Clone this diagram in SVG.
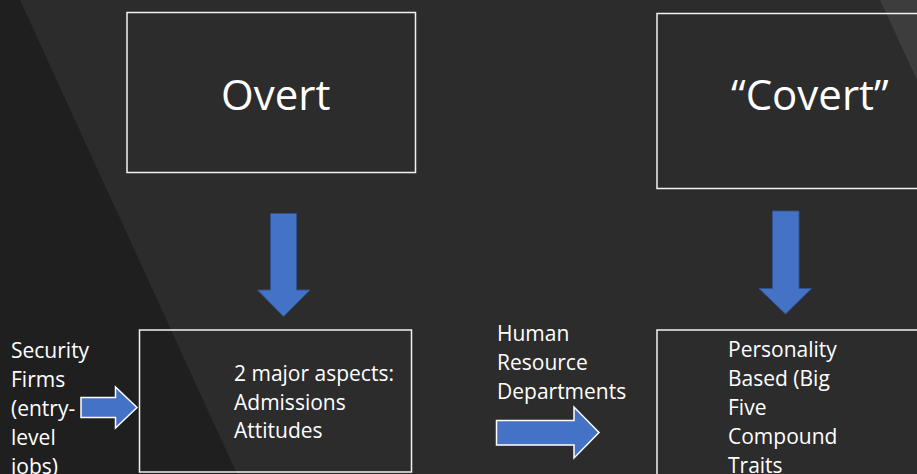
<svg xmlns="http://www.w3.org/2000/svg" width="917" height="474" viewBox="0 0 917 474">
  <style>
    .box { fill: none; stroke: #f2f2f2; stroke-width: 1.5; }
    .big { font-family: "Open Sans", "Noto Sans", "DejaVu Sans", sans-serif; font-size: 42px; fill: #ffffff; }
    .sm { font-family: "Open Sans", "Noto Sans", "DejaVu Sans", sans-serif; font-size: 21px; fill: #ffffff; }
    .down { fill: #4472c4; stroke: #2f528f; stroke-width: 1; }
    .right { fill: #4472c4; stroke: #ffffff; stroke-width: 1.5; }
  </style>
  <!-- background -->
  <rect x="0" y="0" width="917" height="474" fill="#2c2c2c"/>
  <polygon points="0,0 20,0 237,474 0,474" fill="#1f1f1f"/>
  <polygon points="880,0 917,0 917,80" fill="#3d3d3d"/>

  <g id="overt">
    <rect class="box" x="127" y="12.5" width="288.5" height="160"/>
    <text class="big" x="221" y="110">Overt</text>
  </g>
  <g id="covert">
    <rect class="box" x="657" y="13.5" width="300" height="175"/>
    <text class="big" x="731" y="110">“Covert”</text>
  </g>
  <g id="overt-aspects">
    <rect class="box" x="139.5" y="330" width="272" height="142"/>
    <text class="sm" x="234" y="381">2 major aspects:</text>
    <text class="sm" x="234" y="410">Admissions</text>
    <text class="sm" x="234" y="438">Attitudes</text>
  </g>
  <g id="covert-aspects">
    <rect class="box" x="657" y="330" width="300" height="160"/>
    <text class="sm" x="728" y="357">Personality</text>
    <text class="sm" x="728" y="386">Based (Big</text>
    <text class="sm" x="728" y="415">Five</text>
    <text class="sm" x="728" y="444">Compound</text>
    <text class="sm" x="728" y="473">Traits</text>
  </g>
  <g id="security-firms">
    <text class="sm" x="11" y="358">Security</text>
    <text class="sm" x="11" y="387">Firms</text>
    <text class="sm" x="11" y="416">(entry-</text>
    <text class="sm" x="11" y="445">level</text>
    <text class="sm" x="11" y="474">jobs)</text>
  </g>
  <g id="hr-departments">
    <text class="sm" x="497" y="341">Human</text>
    <text class="sm" x="497" y="370">Resource</text>
    <text class="sm" x="497" y="399">Departments</text>
  </g>

  <g id="connectors">
    <polygon class="down" points="270.5,213.5 296.5,213.5 296.5,290 310,290 283.5,316.5 257.5,290 270.5,290"/>
    <polygon class="down" points="772.5,211 799,211 799,288.5 811.5,288.5 785.5,314 759,288.5 772.5,288.5"/>
    <polygon class="right" points="81,397.5 115.5,397.5 115.5,387 137,407.5 115.5,428 115.5,417.5 81,417.5"/>
    <polygon class="right" points="496.5,420.5 574,420.5 574,407 599,432.5 574,458 574,445 496.5,445"/>
  </g>
</svg>
